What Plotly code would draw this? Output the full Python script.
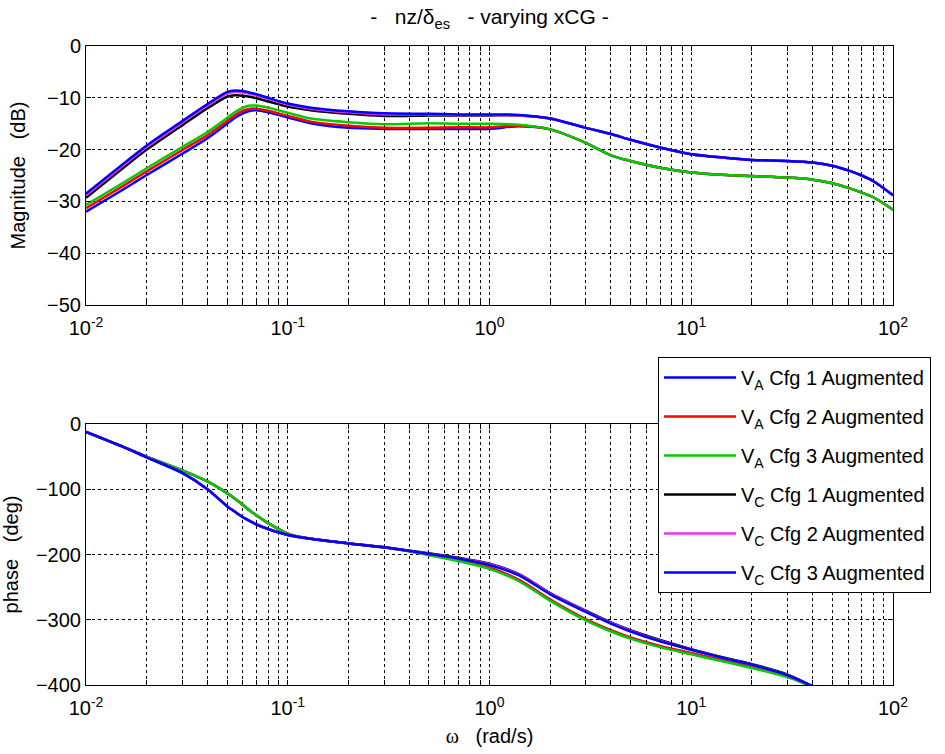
import plotly.graph_objects as go

# Frequency grid (rad/s)
omega = [0.01, 0.015, 0.02, 0.03, 0.04, 0.05, 0.055, 0.06, 0.065, 0.07, 0.08, 0.1,
         0.13, 0.2, 0.3, 0.5, 0.7, 1.0, 1.4, 2.0, 3.0, 4.0, 5.0, 7.0, 10, 15, 20,
         30, 40, 50, 60, 70, 80, 100]

# Magnitude (dB)
mag_va1 = [-32.0, -27.9, -24.9, -20.8, -17.8, -15.0, -13.8, -13.0, -12.5, -12.4, -12.8, -13.8,
           -14.9, -15.8, -16.0, -16.0, -16.0, -16.0, -15.5, -16.1, -18.7, -21.1, -22.2, -23.5, -24.4, -24.9, -25.1,
           -25.4, -25.8, -26.5, -27.4, -28.3, -29.2, -31.6]
mag_va2 = [-31.3, -27.2, -24.2, -20.1, -17.2, -14.5, -13.3, -12.5, -12.1, -12.1, -12.5, -13.5,
           -14.6, -15.4, -15.8, -15.8, -15.7, -15.7, -15.4, -16.1, -18.7, -21.1, -22.2, -23.5, -24.4, -24.9, -25.1,
           -25.4, -25.8, -26.5, -27.4, -28.3, -29.2, -31.6]
mag_va3 = [-30.7, -26.6, -23.6, -19.5, -16.6, -13.9, -12.7, -11.9, -11.5, -11.5, -11.9, -12.9,
           -14.0, -14.7, -15.1, -14.9, -15.0, -15.0, -15.2, -16.1, -18.7, -21.1, -22.2, -23.5, -24.4, -24.9, -25.1,
           -25.4, -25.8, -26.5, -27.4, -28.3, -29.2, -31.6]
mag_vc1 = [-29.3, -23.8, -20.0, -15.3, -12.0, -9.8, -9.5, -9.6, -9.8, -10.1, -10.7, -11.7,
           -12.4, -13.1, -13.5, -13.4, -13.4, -13.4, -13.4, -14.0, -15.8, -17.0, -18.1, -19.6, -20.9, -21.6, -22.0,
           -22.2, -22.5, -23.1, -24.0, -25.0, -26.1, -28.8]
mag_vc2 = [-28.8, -23.3, -19.5, -14.8, -11.5, -9.2, -8.9, -9.0, -9.2, -9.5, -10.2, -11.3,
           -12.1, -12.8, -13.2, -13.2, -13.3, -13.3, -13.4, -14.0, -15.8, -17.0, -18.1, -19.6, -20.9, -21.6, -22.0,
           -22.2, -22.5, -23.1, -24.0, -25.0, -26.1, -28.8]
mag_vc3 = [-28.5, -23.0, -19.2, -14.5, -11.2, -8.9, -8.6, -8.7, -9.0, -9.3, -10.0, -11.1,
           -11.9, -12.6, -13.0, -13.1, -13.2, -13.2, -13.3, -14.0, -15.8, -17.0, -18.1, -19.6, -20.9, -21.6, -22.0,
           -22.2, -22.5, -23.1, -24.0, -25.0, -26.1, -28.8]

# Phase (deg); the curves leave the -400 floor near 40 rad/s
ph_va1 = [-12, -34, -50, -71, -88, -106, -115, -124, -133, -140, -152, -168,
          -176, -183, -189, -200, -209, -221, -240, -270, -300, -317, -328, -341, -352, -364, -373,
          -387, -403, None, None, None, None, None]
ph_va2 = [-12, -34, -50, -71, -88, -106, -115, -124, -133, -140, -152, -168,
          -176, -183, -189, -200, -208, -220, -239, -269, -299, -316, -327, -340, -351, -363, -372,
          -386, -403, None, None, None, None, None]
ph_va3 = [-12, -34, -50, -71, -88, -106, -115, -124, -133, -140, -152, -168,
          -176, -183, -189, -201, -210, -222, -241, -271, -301, -318, -329, -342, -353, -365, -374,
          -388, -403, None, None, None, None, None]
ph_vc1 = [-12, -34, -51, -75, -100, -126, -135, -143, -149, -154, -161, -170,
          -176, -183, -189, -198, -205, -214, -230, -259, -286, -304, -316, -331, -345, -359, -368,
          -384, -402, None, None, None, None, None]
ph_vc2 = [-12, -34, -51, -75, -100, -126, -135, -143, -149, -154, -161, -170,
          -176, -183, -189, -199, -206, -215, -231, -260, -287, -305, -317, -332, -346, -360, -369,
          -385, -402, None, None, None, None, None]
ph_vc3 = [-12, -34, -51, -75, -100, -126, -135, -143, -149, -154, -161, -170,
          -176, -183, -189, -199, -206, -216, -232, -261, -288, -306, -318, -333, -346, -360, -369,
          -385, -402, None, None, None, None, None]

names = ["V<sub>A</sub> Cfg 1 Augmented", "V<sub>A</sub> Cfg 2 Augmented",
         "V<sub>A</sub> Cfg 3 Augmented", "V<sub>C</sub> Cfg 1 Augmented",
         "V<sub>C</sub> Cfg 2 Augmented", "V<sub>C</sub> Cfg 3 Augmented"]
colors = ["#0000ff", "#ff0000", "#00cc00", "#000000", "#ee33ee", "#0000ff"]
mags = [mag_va1, mag_va2, mag_va3, mag_vc1, mag_vc2, mag_vc3]
phases = [ph_va1, ph_va2, ph_va3, ph_vc1, ph_vc2, ph_vc3]

decades = [-2, -1, 0, 1, 2]
FONT = "Liberation Sans, Arial, sans-serif"

fig = go.Figure()
for name, col, m, p in zip(names, colors, mags, phases):
    fig.add_trace(go.Scatter(x=omega, y=m, name=name, mode="lines",
                             line=dict(color=col, width=2.5, shape="spline", smoothing=0.8),
                             xaxis="x", yaxis="y", legendgroup=name))
    fig.add_trace(go.Scatter(x=omega, y=p, name=name, mode="lines", showlegend=False,
                             line=dict(color=col, width=2.5, shape="spline", smoothing=0.8),
                             xaxis="x2", yaxis="y2", legendgroup=name))

dec_vals = [10.0 ** d for d in decades]
dec_text = [f"10<sup>{d}</sup>" for d in decades]

grid_style = dict(showgrid=True, gridcolor="black", griddash="dot", gridwidth=1)
xcommon = dict(type="log", range=[-2, 2], tickvals=dec_vals, ticktext=dec_text,
               showline=True, linecolor="black", linewidth=1, mirror="allticks",
               ticks="inside", ticklen=5, tickcolor="black", automargin=False,
               ticklabelstandoff=5,
               minor=dict(dtick="D1", ticks="inside", ticklen=5, tickcolor="black", **grid_style),
               tickfont=dict(size=20, color="black", family=FONT), zeroline=False, **grid_style)
ycommon = dict(showline=True, linecolor="black", linewidth=1, mirror="allticks",
               ticks="inside", ticklen=5, tickcolor="black", automargin=False,
               tickfont=dict(size=20, color="black", family=FONT), zeroline=False, **grid_style)

# plot area: x 86..893, y 46..685 px
H_AREA = 685 - 46
fig.update_layout(
    width=945, height=754,
    margin=dict(l=86, r=945 - 893, t=46, b=754 - 685),
    paper_bgcolor="white", plot_bgcolor="white",
    font=dict(family=FONT, size=20, color="black"),
    showlegend=True,
    title=dict(text="-\u00a0\u00a0\u00a0nz/\u03b4<sub>es</sub>\u00a0\u00a0\u00a0- varying xCG -",
               x=489.5 / 945, xanchor="center", y=1 - 17 / 754, yanchor="middle",
               font=dict(size=21, family=FONT, color="black")),
    xaxis=dict(domain=[0, 1], anchor="y", **xcommon),
    yaxis=dict(domain=[1 - (305 - 46) / H_AREA, 1], anchor="x", range=[-50, 0], dtick=10,
               title=dict(text="Magnitude\u00a0\u00a0\u00a0(dB)", standoff=16,
                          font=dict(size=20, family=FONT)), **ycommon),
    xaxis2=dict(domain=[0, 1], anchor="y2",
                title=dict(text="<span style='font-family:Liberation Serif'>\u03c9</span>\u00a0\u00a0\u00a0(rad/s)",
                           standoff=10, font=dict(size=20, family=FONT)), **xcommon),
    yaxis2=dict(domain=[0, (685 - 424) / H_AREA], anchor="x2", range=[-400, 0], dtick=100,
                title=dict(text="phase\u00a0\u00a0\u00a0(deg)", standoff=16,
                           font=dict(size=20, family=FONT)), **ycommon),
    legend=dict(x=(658 - 86) / (893 - 86), xanchor="left", yref="paper",
                y=(754 - 69 - 357) / H_AREA, yanchor="top",
                bgcolor="white", bordercolor="black", borderwidth=1,
                font=dict(size=20, family=FONT, color="black"),
                itemwidth=72, traceorder="grouped", tracegroupgap=10),
)

fig.write_html("out.html")
